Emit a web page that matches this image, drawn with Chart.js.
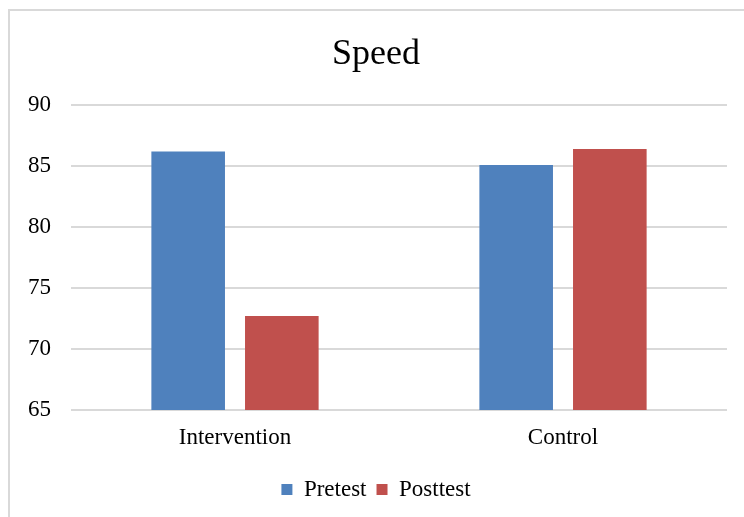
<!DOCTYPE html>
<html>
<head>
<meta charset="utf-8">
<script src="https://cdn.jsdelivr.net/npm/chart.js@4/dist/chart.umd.min.js"></script>
<style>
  html, body { margin: 0; padding: 0; background: #ffffff; }
  #wrap { position: relative; width: 744px; height: 517px; overflow: hidden; }
  #frame {
    position: absolute; left: 8px; top: 9px; width: 800px; height: 600px;
    border-left: 2px solid #d9d9d9; border-top: 2px solid #d9d9d9;
    box-sizing: border-box; pointer-events: none;
  }
  canvas { position: absolute; left: 0; top: 0; }
</style>
</head>
<body>
<div id="wrap">
  <canvas id="chart" width="744" height="517"></canvas>
  <div id="frame"></div>
</div>
<script>
// Speed scores by group
const categories = ['Intervention', 'Control'];
const pretest = [86.2, 85.1];
const posttest = [72.7, 86.4];
const yTicks = [65, 70, 75, 80, 85, 90];

const serif = 'Liberation Serif, Times New Roman, serif';

new Chart(document.getElementById('chart'), {
  type: 'bar',
  data: {
    labels: categories,
    datasets: [
      { label: 'Pretest', data: pretest, backgroundColor: '#4f81bd' },
      { label: 'Posttest', data: posttest, backgroundColor: '#c0504d' }
    ]
  },
  options: {
    responsive: false,
    animation: false,
    devicePixelRatio: 1,
    layout: { padding: { left: 25, right: 17, top: 0, bottom: 6 } },
    datasets: { bar: { categoryPercentage: 0.571, barPercentage: 0.786 } },
    plugins: {
      title: {
        display: true,
        text: 'Speed',
        color: '#000000',
        font: { family: serif, size: 36, weight: 'normal' },
        padding: { top: 33, bottom: 29 }
      },
      legend: {
        position: 'bottom',
        labels: {
          color: '#000000',
          font: { family: serif, size: 23 },
          boxWidth: 11,
          boxHeight: 11,
          padding: 10
        }
      },
      tooltip: { enabled: false }
    },
    scales: {
      x: {
        grid: { display: false, drawTicks: false },
        border: { display: false },
        ticks: { color: '#000000', font: { family: serif, size: 23 }, padding: 14 },
        afterFit: (s) => { s.height = 58; }
      },
      y: {
        min: yTicks[0],
        max: yTicks[yTicks.length - 1],
        afterBuildTicks: (s) => { s.ticks = yTicks.map(v => ({ value: v })); },
        grid: { color: '#d9d9d9', lineWidth: 2, drawTicks: false },
        border: { display: false },
        ticks: { color: '#000000', font: { family: serif, size: 23 }, padding: 20 },
        afterFit: (s) => { s.width = 46; }
      }
    }
  }
});
</script>
</body>
</html>
